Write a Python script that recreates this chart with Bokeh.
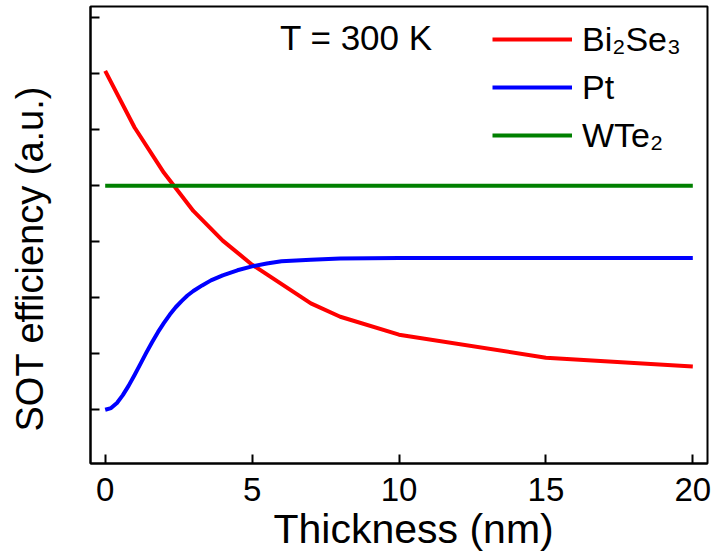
from bokeh.plotting import figure
from bokeh.models import Range1d, FixedTicker, Label, Legend, LegendItem, Title
from bokeh.embed import file_html
from bokeh.resources import INLINE

# ---- data ----
bi2se3_thickness = [0, 1, 2, 3, 4, 5, 7, 8, 10, 15, 20]
bi2se3_eff = [6.05, 5.04, 4.23, 3.55, 3.02, 2.59, 1.90, 1.66, 1.34, 0.93, 0.77]

pt_thickness = [0, 0.2, 0.4, 0.6, 0.8, 1.0, 1.2, 1.4, 1.6, 1.8, 2.0, 2.2, 2.4, 2.6, 2.8, 3.0,
                3.3, 3.6, 4.0, 4.5, 5.0, 5.5, 6, 7, 8, 10, 15, 20]
pt_eff = [0.0, 0.03, 0.12, 0.26, 0.43, 0.62, 0.82, 1.02, 1.21, 1.39, 1.55, 1.70, 1.83, 1.94,
          2.04, 2.12, 2.22, 2.31, 2.40, 2.49, 2.56, 2.61, 2.65, 2.68, 2.70, 2.71, 2.71, 2.71]

wte2_thickness = [0, 20]
wte2_eff = [4.0, 4.0]

x_ticks = [0, 5, 10, 15, 20]
y_ticks = [0, 1, 2, 3, 4, 5, 6, 7]

FONT = "Liberation Sans"

p = figure(width=714, height=558, output_backend="svg", toolbar_location=None,
           x_range=Range1d(-0.5, 20.5), y_range=Range1d(-0.96, 7.2),
           min_border_left=90, min_border_right=7, min_border_top=6, min_border_bottom=95)

p.xgrid.visible = False
p.ygrid.visible = False
p.outline_line_color = "black"
p.outline_line_width = 2
p.background_fill_color = "white"
p.border_fill_color = "white"

r_bi = p.line(bi2se3_thickness, bi2se3_eff, line_color="#ff0000", line_width=4)
r_pt = p.line(pt_thickness, pt_eff, line_color="#0000ff", line_width=4, line_join="round")
r_w = p.line(wte2_thickness, wte2_eff, line_color="#008000", line_width=4)

xa = p.xaxis[0]
xa.ticker = FixedTicker(ticks=x_ticks)
xa.major_tick_in = 9
xa.major_tick_out = 0
xa.minor_tick_line_color = None
xa.axis_line_width = 2
xa.major_tick_line_width = 2
xa.major_label_text_font = FONT
xa.major_label_text_font_size = "33px"
xa.major_label_text_color = "black"
xa.major_label_standoff = 14

ya = p.yaxis[0]
ya.ticker = FixedTicker(ticks=y_ticks)
ya.major_tick_in = 9
ya.major_tick_out = 0
ya.minor_tick_line_color = None
ya.axis_line_width = 2
ya.major_tick_line_width = 2
ya.major_label_overrides = {t: "" for t in y_ticks}
ya.major_label_standoff = 0

# axis titles as side titles, offset like the reference
p.add_layout(Title(text="Thickness (nm)", align="left", offset=183, standoff=0,
                   text_font=FONT, text_font_size="41px", text_font_style="normal",
                   text_color="black", text_line_height=1.0), "below")
# blank spacer between the y axis and its title
p.add_layout(Title(text=" ", standoff=17, text_font=FONT, text_font_size="10px",
                   text_line_height=1.0), "left")
p.add_layout(Title(text="SOT efficiency (a.u.)", align="left", offset=32, standoff=16,
                   vertical_align="top",
                   text_font=FONT, text_font_size="38px", text_font_style="normal",
                   text_color="black", text_line_height=1.0), "left")

p.add_layout(Label(x=5.95, y=6.65, text="T = 300 K", text_font=FONT,
                   text_font_size="35px", text_color="black", text_baseline="alphabetic"))

legend = Legend(items=[LegendItem(label="Bi\u2082Se\u2083", renderers=[r_bi]),
                       LegendItem(label="Pt", renderers=[r_pt]),
                       LegendItem(label="WTe\u2082", renderers=[r_w])],
                location=(402, 308), glyph_width=80, glyph_height=40, label_height=40,
                label_standoff=10, spacing=8, padding=0, margin=0,
                border_line_color=None, background_fill_alpha=0,
                label_text_font=FONT, label_text_font_size="34px", label_text_color="black")
p.add_layout(legend)

open("out.html", "w").write(file_html(p, INLINE))
